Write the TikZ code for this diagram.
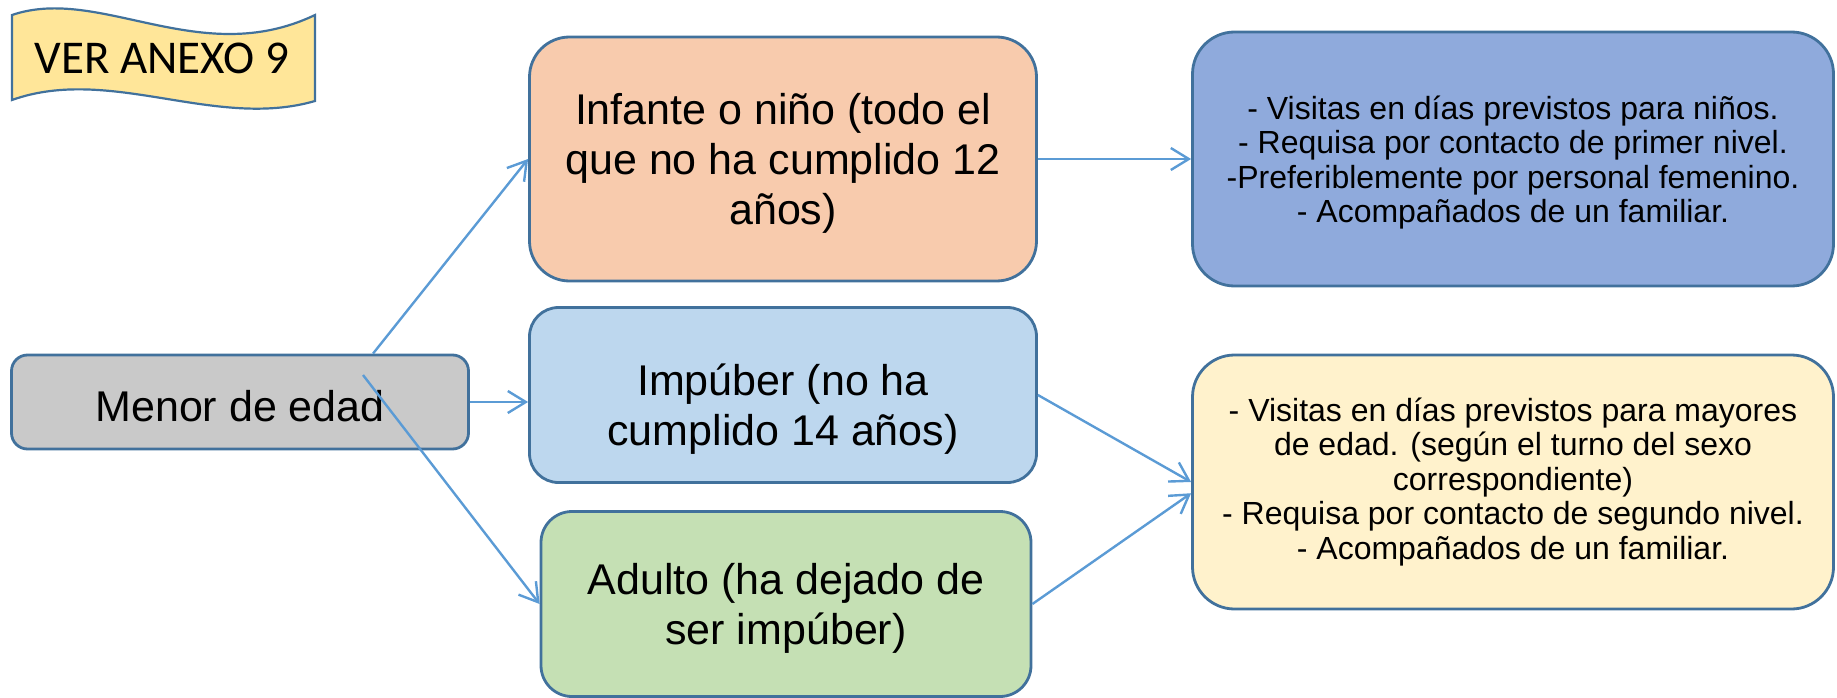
\documentclass[tikz,border=0pt]{standalone}
\usepackage{fontspec}
\setmainfont{Liberation Sans}
\newfontfamily\calibri{Carlito}
\usetikzlibrary{arrows.meta, calc}
\definecolor{edge_blue}{RGB}{65, 113, 156}
\definecolor{arrow_blue}{RGB}{91, 155, 213}
\definecolor{gray_fill}{RGB}{201, 201, 201}
\definecolor{peach}{RGB}{248, 203, 173}
\definecolor{sky}{RGB}{189, 215, 238}
\definecolor{sage}{RGB}{197, 224, 180}
\definecolor{cornflower}{RGB}{143, 170, 220}
\definecolor{cream}{RGB}{255, 242, 204}
\definecolor{banner_gold}{RGB}{255, 230, 153}
\def \BigTxt {\fontsize{43}{50}\selectfont}
\def \SmallTxt {\fontsize{32}{34.5}\selectfont}

\begin{document}
\begin{tikzpicture}[x=1pt, y=-1pt,
    % Define the box style
    stage/.style={
        rectangle,
        rounded corners=#1,
        line width=2.8pt,
        draw=edge_blue,
        align=center,
        inner sep=0pt
    },
    % Age group box style
    group/.style={
        stage=#1,
        text depth=0pt,
        font=\BigTxt
    },
    % Rule box style
    rule/.style={
        stage=42pt,
        font=\SmallTxt
    },
    % Connection style
    link/.style={
        -{Straight Barb[length=18pt, width=22pt]},
        line width=2.4pt,
        arrow_blue
    }
]
\useasboundingbox (0,0) rectangle (1837,698);

% Banner
\draw[edge_blue, fill=banner_gold, line width=2.2pt]
    (12,15) .. controls (100,-15) and (200,70) .. (315,15)
    -- (315,101) .. controls (215,130) and (110,65) .. (12,100) -- cycle;
\node[font=\calibri\fontsize{47}{50}\selectfont] (anexo) at (162,58) {VER ANEXO 9};

% Age groups
\node[group=16pt, fill=gray_fill, minimum width=457pt, minimum height=94pt, text height=38pt] (menor) at (240,402) {Menor de edad};

\node[group=40pt, fill=peach, minimum width=507pt, minimum height=244pt] (infante) at (783,159) {Infante o niño (todo el\\que no ha cumplido 12\\años)};
\node[group=29pt, fill=sky, minimum width=507pt, minimum height=175pt, text height=100pt] (impuber) at (783,395) {Impúber (no ha\\cumplido 14 años)};
\node[group=31pt, fill=sage, minimum width=490pt, minimum height=185pt] (adulto) at (786,604) {Adulto (ha dejado de\\ser impúber)};

% Visiting rules
\node[rule, fill=cornflower, minimum width=641pt, minimum height=254pt, text depth=-13pt] (ninos) at (1513,159) {- Visitas en días previstos para niños.\\- Requisa por contacto de primer nivel.\\-Preferiblemente por personal femenino.\\- Acompañados de un familiar.};
\node[rule, fill=cream, minimum width=641pt, minimum height=254pt] (mayores) at (1513,482) {- Visitas en días previstos para mayores\\de edad. (según el turno del sexo\\correspondiente)\\- Requisa por contacto de segundo nivel.\\- Acompañados de un familiar.};

\coordinate (split) at ($(menor.center)+(123,-27)$);

\draw[link] (menor.20) -- (infante.west);
\draw[link] (menor.east) -- (menor.east -| impuber.west);
\draw[link] (split) -- (adulto.west);
\draw[link] (infante.east) -- (ninos.west);
\draw[link] (impuber.east) -- (mayores.west);
\draw[link] (adulto.east) -- (mayores.182);

\end{tikzpicture}
\end{document}
